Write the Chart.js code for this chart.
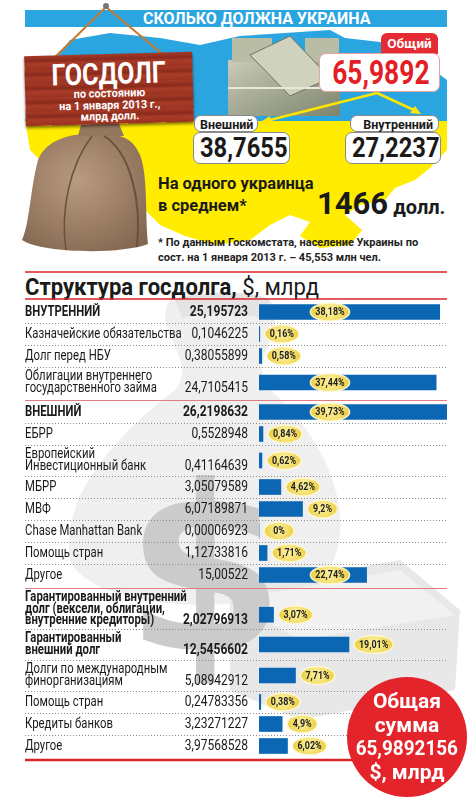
<!DOCTYPE html>
<html lang="ru">
<head>
<meta charset="utf-8">
<title>Сколько должна Украина</title>
<script src="https://cdn.jsdelivr.net/npm/chart.js@4.4.1/dist/chart.umd.min.js"></script>
<style>
body { margin: 0; width: 476px; height: 800px; position: relative; overflow: hidden; background: #fff;
  font-family: Roboto, 'Noto Sans', sans-serif; color: #1a1a1a; }
.abs { position: absolute; }
.sq { display: inline-block; white-space: nowrap; }
.sign { left: 25px; top: 54px; width: 168px; height: 70px; transform: rotate(-1.5deg);
  background: repeating-linear-gradient(0deg, #9a3222 0px, #a93c27 6px, #8a2a1c 9px, #a63a26 14px);
  box-shadow: 0 2px 3px rgba(0,0,0,.5); color: #fff; text-align: center; font-weight: bold; }
.sign .big { font-size: 30px; line-height: 28px; margin-top: 6px; }
.sign .small { font-size: 11.5px; line-height: 11.5px; }
.box { background: #fff; border: 1px solid #8a8a8a; border-radius: 7px; text-align: center; font-weight: bold; }
.circle { left: 347px; top: 677px; width: 120px; height: 120px; border-radius: 50%; background: #e3242b;
  color: #fff; font-weight: bold; font-size: 21px; line-height: 23.5px; text-align: center; z-index: 3; }
</style>
</head>
<body>
<svg class="abs" style="left:0;top:0" width="476" height="800">
  <defs>
    <clipPath id="ua"><polygon points="70,40 110,33 160,38 200,45 240,36 300,32 330,30 345,38 380,42 420,60 447,80 447,150 430,168 415,180 395,188 385,200 360,205 345,215 362,230 350,245 320,248 300,236 310,222 290,215 270,225 250,240 215,245 185,236 160,225 140,205 100,190 60,180 30,150 25,120 40,90 55,60"/></clipPath>
    <radialGradient id="bag" cx="45%" cy="40%" r="70%"><stop offset="0" stop-color="#b99c7f"/><stop offset="1" stop-color="#846750"/></radialGradient>
    <linearGradient id="cash" x1="0" y1="0" x2="1" y2="1"><stop offset="0" stop-color="#c9ccb8"/><stop offset="1" stop-color="#7d846c"/></linearGradient>
  </defs>
  <g clip-path="url(#ua)">
    <rect x="0" y="0" width="476" height="121" fill="#2aa5df"/>
    <rect x="0" y="121" width="476" height="150" fill="#ffec00"/>
  </g>
  <rect x="25" y="10" width="422" height="17" fill="#2aa5df"/>
  <!-- money -->
  <rect x="228" y="60" width="112" height="56" fill="url(#cash)"/>
  <rect x="232" y="38" width="40" height="24" fill="#b9bda6"/>
  <rect x="305" y="38" width="34" height="24" fill="#b9bda6"/>
  <polygon points="250,55 290,36 330,78 290,96" fill="#cfd2bd" stroke="#6e735f"/>
  <line x1="228" y1="88" x2="340" y2="88" stroke="#e8e8e0" stroke-width="2"/>
  <!-- bag -->
  <path d="M100 134 C70 132 46 140 38 160 C30 190 30 222 22 240 C40 253 120 255 148 244 C145 215 148 175 140 155 C133 140 125 134 100 134 Z" fill="url(#bag)"/>
  <path d="M82 121 L118 121 L124 136 L78 136 Z" fill="#94785e"/>
  <path d="M104 136 C130 152 142 200 137 247" stroke="#6b513b" stroke-width="2" fill="none"/>
  <path d="M92 136 C70 165 60 210 66 250" stroke="#6b513b" stroke-width="1.5" fill="none"/>
  <!-- nail and strings -->
  <line x1="106" y1="7" x2="48" y2="64" stroke="#c8792f" stroke-width="2"/>
  <line x1="106" y1="7" x2="172" y2="62" stroke="#c8792f" stroke-width="2"/>
  <circle cx="106" cy="6" r="3" fill="#777"/>
  <!-- arrows -->
  <g stroke="#ffe600" stroke-width="2.5" fill="#ffe600">
    <line x1="377" y1="93" x2="266" y2="121"/>
    <line x1="377" y1="93" x2="416" y2="111"/>
    <polygon points="259,123 270,116 271,125" stroke="none"/>
    <polygon points="421,114 410,113 415,106" stroke="none"/>
  </g>
  <!-- faint sack in table background -->
  <path d="M170 300 C150 330 200 360 175 390 C110 440 60 500 70 560 C90 610 250 620 320 580 C360 540 340 450 270 390 C245 360 290 330 270 300 Z" fill="#efefef"/>
  <path d="M175 300 C195 290 255 290 270 300 L262 318 C240 312 200 312 182 318 Z" fill="#e4e4e4"/>
  <polygon points="230,590 400,560 460,610 455,690 300,720 230,690" fill="#e8e8e8"/>
  <polygon points="230,600 400,570 455,615 300,640" fill="#f1f1f1"/>
  <text x="205" y="650" font-family="DejaVu Sans" font-weight="bold" font-size="230" fill="#cbcbcb" text-anchor="middle">$</text>
  <line x1="25" y1="272" x2="447" y2="272" stroke="#d9232b" stroke-width="1.5"/>
</svg>

<div class="abs" style="left:143px;top:10px;height:17px;line-height:18px;color:#fff;font-weight:bold;font-size:16px;white-space:nowrap">СКОЛЬКО ДОЛЖНА УКРАИНА</div>

<div class="abs sign"><div class="big"><span class="sq" style="transform:scaleX(.84)">ГОСДОЛГ</span></div><div class="small"><span class="sq" style="transform:scaleX(.95)">по состоянию<br>на 1 января 2013 г.,<br>млрд долл.</span></div></div>

<div class="abs" style="left:381px;top:33px;width:57px;height:21px;background:#e52b33;border-radius:6px 6px 0 0;color:#fff;font-weight:bold;font-size:13.5px;line-height:21px;text-align:center">Общий</div>
<div class="abs box" style="left:319px;top:53px;width:119px;height:37px;border-color:#e9a3a3;color:#e31e26;font-size:33px;line-height:37px"><span class="sq" style="transform:scaleX(.8)">65,9892</span></div>

<div class="abs box" style="left:194px;top:115px;width:64px;height:17px;font-size:12.5px;line-height:17px;text-align:left;padding-left:5px;box-sizing:border-box">Внешний</div>
<div class="abs box" style="left:193px;top:132px;width:95px;height:30px;font-size:27px;line-height:30px"><span class="sq" style="transform:scaleX(.88)">38,7655</span></div>
<div class="abs box" style="left:350px;top:115px;width:89px;height:17px;font-size:12.5px;line-height:17px;text-align:right;padding-right:5px;box-sizing:border-box">Внутренний</div>
<div class="abs box" style="left:345px;top:132px;width:94px;height:30px;font-size:27px;line-height:30px"><span class="sq" style="transform:scaleX(.88)">27,2237</span></div>

<div class="abs" style="left:158px;top:173px;font-weight:bold;font-size:16.5px;line-height:22px;white-space:nowrap">На одного украинца<br>в среднем*</div>
<div class="abs" style="left:317px;top:187px;font-weight:bold;font-size:31px;line-height:34px;white-space:nowrap">1466<span style="font-size:20px"> долл.</span></div>
<div class="abs" style="left:158px;top:236px;font-weight:bold;font-size:11px;line-height:14.5px;color:#222;white-space:nowrap">* По данным Госкомстата, население Украины по<br>сост. на 1 января 2013 г. – 45,553 млн чел.</div>

<div class="abs" style="left:25px;top:274px;font-size:24.5px;line-height:26px;white-space:nowrap;transform:scaleX(.9);transform-origin:0 0"><b>Структура госдолга,</b> $, млрд</div>

<div class="abs" style="left:0;top:291px;width:476px;height:476px;z-index:2"><canvas id="debtChart"></canvas></div>

<div class="abs circle"><div style="margin-top:13px">Общая<br>сумма<br><span class="sq" style="transform:scaleX(.9)">65,9892156</span><br>$, млрд</div></div>

<script>
// строки таблицы
const categories = [
    ['ВНУТРЕННИЙ'],
    ['Казначейские обязательства'],
    ['Долг перед НБУ'],
    ['Облигации внутреннего', 'государственного займа'],
    ['ВНЕШНИЙ'],
    ['ЕБРР'],
    ['Европейский', 'Инвестиционный банк'],
    ['МБРР'],
    ['МВФ'],
    ['Chase Manhattan Bank'],
    ['Помощь стран'],
    ['Другое'],
    ['Гарантированный внутренний', 'долг (вексели, облигации,', 'внутренние кредиторы)'],
    ['Гарантированный', 'внешний долг'],
    ['Долги по международным', 'финорганизациям'],
    ['Помощь стран'],
    ['Кредиты банков'],
    ['Другое']
]
const amounts = [25.195723, 0.1046225, 0.38055899, 24.7105415, 26.2198632, 0.5528948, 0.41164639,
    3.05079589, 6.07189871, 0.00006923, 1.12733816, 15.00522, 2.02796913, 12.5456602,
    5.08942912, 0.24783356, 3.23271227, 3.97568528]
const shares = [38.18, 0.16, 0.58, 37.44, 39.73, 0.84, 0.62, 4.62, 9.2, 0, 1.71, 22.74,
    3.07, 19.01, 7.71, 0.38, 4.9, 6.02]
const boldRows = [1, 0, 0, 0, 1, 0, 0, 0, 0, 0, 0, 0, 1, 1, 0, 0, 0, 0]
const sections = [0, 0, 0, 0, 1, 1, 1, 1, 1, 1, 1, 1, 2, 2, 2, 2, 2, 2]

const FONT = 'Roboto, sans-serif'
const lineH = 11.5
const rowH = n => 22 + 9 * (n - 1)
const sectionGap = 3

// row layout from the number of text lines
let cursor = 0
const rows = categories.map((lines, i) => {
    if (i > 0 && sections[i] !== sections[i - 1]) cursor += sectionGap
    const r = { top: cursor, h: rowH(lines.length), lines }
    r.mid = r.top + r.h / 2
    r.bar = r.mid + Math.max(0, lines.length - 2) * lineH / 2
    cursor += r.h
    return r
})
const total = cursor

const fmt = v => String(v).replace('.', ',')

const drawText = (ctx, txt, x, y, align, sx) => {
    ctx.save()
    ctx.translate(x, y)
    ctx.scale(sx, 1)
    ctx.textAlign = align
    ctx.fillText(txt, 0, 0)
    ctx.restore()
}

const tablePlugin = {
    id: 'table',
    beforeDatasetsDraw(chart) {
        const { ctx, scales: { y } } = chart
        ctx.save()
        // dotted row separators
        ctx.strokeStyle = '#8c8c8c'
        ctx.lineWidth = 1
        ctx.setLineDash([1, 2])
        rows.forEach((r, i) => {
            if (i < rows.length - 1 && sections[i + 1] === sections[i]) {
                const py = Math.round(y.getPixelForValue(r.top + r.h)) + 0.5
                ctx.beginPath(); ctx.moveTo(25, py); ctx.lineTo(447, py); ctx.stroke()
            }
        })
        ctx.setLineDash([])
        // red section lines
        ctx.strokeStyle = '#e27b82'
        rows.forEach((r, i) => {
            if (i > 0 && sections[i] !== sections[i - 1]) {
                const py = Math.round(y.getPixelForValue(r.top - sectionGap / 2)) + 0.5
                ctx.beginPath(); ctx.moveTo(25, py); ctx.lineTo(447, py); ctx.stroke()
            }
        })
        ctx.strokeStyle = '#d9232b'
        ctx.lineWidth = 1.5
        let py = y.getPixelForValue(0) - 2
        ctx.beginPath(); ctx.moveTo(25, py); ctx.lineTo(447, py); ctx.stroke()
        ctx.lineWidth = 2.5
        py = y.getPixelForValue(total) + 3
        ctx.beginPath(); ctx.moveTo(25, py); ctx.lineTo(447, py); ctx.stroke()
        ctx.restore()
    },
    afterDatasetsDraw(chart) {
        const { ctx, scales: { x, y } } = chart
        ctx.save()
        ctx.textBaseline = 'middle'
        ctx.fillStyle = '#1a1a1a'
        rows.forEach((r, i) => {
            const cy = y.getPixelForValue(r.mid)
            const n = r.lines.length
            const bold = boldRows[i] ? 'bold ' : ''
            ctx.font = bold + '14px ' + FONT
            r.lines.forEach((t, k) => {
                drawText(ctx, t, 25, cy + (k - (n - 1) / 2) * lineH, 'left', 0.81)
            })
            ctx.font = bold + '14.5px ' + FONT
            drawText(ctx, fmt(amounts[i]), 248, cy + (n - 1) / 2 * lineH, 'right', 0.83)
        })
        // percentage badges
        rows.forEach((r, i) => {
            const by = y.getPixelForValue(r.bar)
            const txt = fmt(shares[i]) + '%'
            ctx.font = 'bold 10.5px ' + FONT
            const w = Math.max(ctx.measureText(txt).width * 0.85 + 10, 30)
            const end = x.getPixelForValue(shares[i])
            const cx = shares[i] > 20 ? x.getPixelForValue(15) : end + 5 + w / 2
            const g = ctx.createRadialGradient(cx, by - 2, 2, cx, by, w / 2)
            g.addColorStop(0, '#fcef9a')
            g.addColorStop(1, '#ecce3e')
            ctx.beginPath()
            ctx.ellipse(cx, by, w / 2, 9, 0, 0, Math.PI * 2)
            ctx.fillStyle = g
            ctx.fill()
            ctx.strokeStyle = 'rgba(255,250,215,0.9)'
            ctx.lineWidth = 1.5
            ctx.stroke()
            ctx.fillStyle = '#222'
            drawText(ctx, txt, cx, by + 0.5, 'center', 0.85)
        })
        ctx.restore()
    }
}

new Chart(document.getElementById('debtChart'), {
    type: 'bar',
    data: {
        datasets: [{
            data: rows.map((r, i) => ({ x: shares[i], y: r.bar })),
            backgroundColor: '#0b66b3',
            borderWidth: 0,
            barThickness: 15
        }]
    },
    options: {
        indexAxis: 'y',
        responsive: true,
        maintainAspectRatio: false,
        animation: false,
        events: [],
        layout: { padding: { left: 259, right: 29, top: 10, bottom: 10 } },
        scales: {
            x: { type: 'linear', min: 0, max: Math.max(...shares), offset: false, display: false },
            y: { type: 'linear', min: 0, max: total, reverse: true, offset: false, display: false }
        },
        plugins: { legend: { display: false }, tooltip: { enabled: false } }
    },
    plugins: [tablePlugin]
})
</script>
</body>
</html>
